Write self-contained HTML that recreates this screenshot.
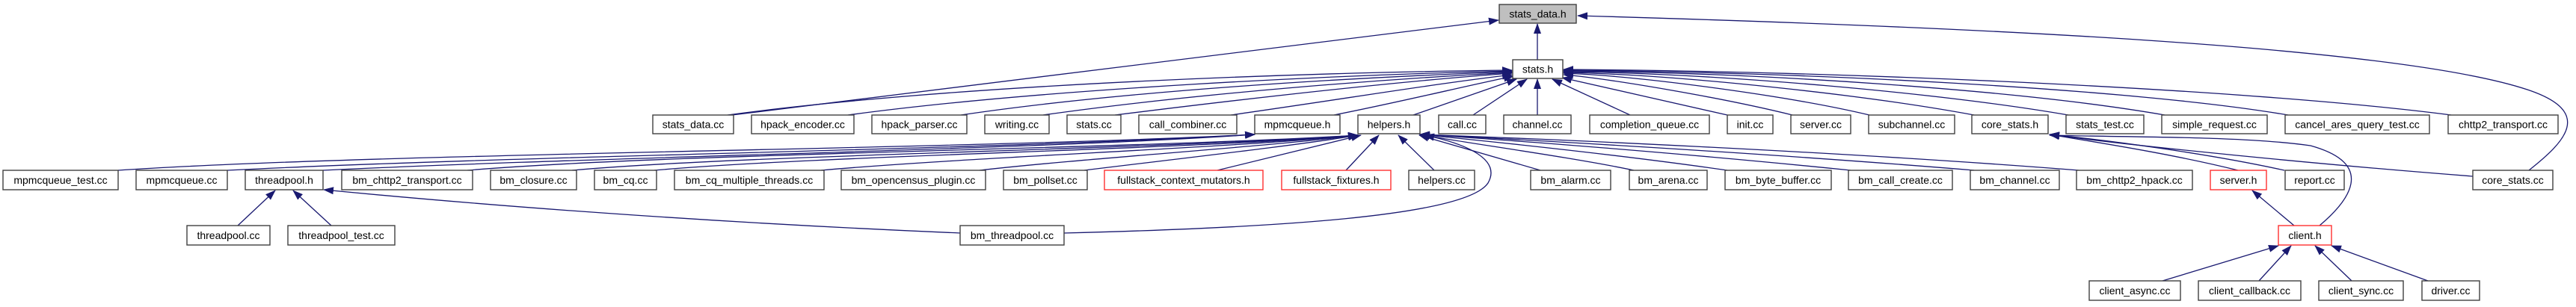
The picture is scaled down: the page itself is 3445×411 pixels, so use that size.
<!DOCTYPE html>
<html><head><meta charset="utf-8"><style>
html,body{margin:0;padding:0;background:#fff;}
svg{display:block;}
text{font-family:"Liberation Sans","DejaVu Sans",sans-serif;font-size:14px;fill:#000;}
.e{stroke:#191970;stroke-width:1.3;fill:none;marker-end:url(#a);}
.n{fill:#fff;stroke:#404040;stroke-width:1.4;}
.r{fill:#fff;stroke:#ff3030;stroke-width:1.4;}
</style></head><body>
<svg width="3445" height="411" viewBox="0 0 3445 411" xmlns="http://www.w3.org/2000/svg">
<defs><marker id="a" markerUnits="userSpaceOnUse" markerWidth="14" markerHeight="10" refX="13" refY="5" orient="auto"><path d="M0,0 L14,5 L0,10 z" fill="#191970"/></marker></defs>
<g>
<!-- to stats_data.h -->
<path class="e" d="M2056,80 L2056,32"/>
<path class="e" d="M979,154 L2004,27"/>
<path class="e" d="M3382,228 C3430,190 3470,150 3380,120 C3200,60 2600,35 2110,21"/>
<!-- to stats.h -->
<path class="e" d="M973,154 C1300,110 1800,96 2022,94"/>
<path class="e" d="M1134,154 C1400,118 1800,100 2022,95"/>
<path class="e" d="M1285,154 C1500,122 1800,104 2022,96"/>
<path class="e" d="M1395,154 C1600,125 1850,106 2022,97"/>
<path class="e" d="M1491,154 C1700,128 1880,108 2022,98"/>
<path class="e" d="M1646,154 C1800,132 1920,112 2022,100"/>
<path class="e" d="M1784,154 C1880,135 1960,115 2024,102"/>
<path class="e" d="M1890,154 L2028,106"/>
<path class="e" d="M1970,154 L2042,106"/>
<path class="e" d="M2056,154 L2056,106"/>
<path class="e" d="M2180,154 L2076,106"/>
<path class="e" d="M2310,154 L2089,104"/>
<path class="e" d="M2397,154 C2300,130 2150,105 2091,100"/>
<path class="e" d="M2500,154 C2400,130 2200,102 2091,98"/>
<path class="e" d="M2640,154 C2500,128 2250,100 2091,97"/>
<path class="e" d="M2766,154 C2600,125 2300,98 2091,96"/>
<path class="e" d="M2895,154 C2700,120 2350,97 2091,95"/>
<path class="e" d="M3060,154 C2850,118 2400,96 2091,94"/>
<path class="e" d="M3278,154 C3000,118 2450,95 2091,93"/>
<!-- to mpmcqueue.h -->
<path class="e" d="M158,228 C500,205 1300,200 1678,180"/>
<path class="e" d="M304,228 C700,208 1350,200 1678,180"/>
<path class="e" d="M432,228 C800,210 1400,200 1678,180"/>
<!-- to helpers.h -->
<path class="e" d="M625,228 C900,205 1500,200 1816,181"/>
<path class="e" d="M765,228 C1000,207 1550,200 1816,181"/>
<path class="e" d="M875,228 C1100,208 1600,200 1816,181"/>
<path class="e" d="M1098,228 C1300,210 1650,198 1816,181"/>
<path class="e" d="M1310,228 C1450,212 1700,196 1816,181"/>
<path class="e" d="M1450,228 C1580,212 1740,194 1816,181"/>
<path class="e" d="M1628,228 L1820,181"/>
<path class="e" d="M1800,228 L1844,181"/>
<path class="e" d="M1918,228 L1870,181"/>
<path class="e" d="M2060,228 L1898,181"/>
<path class="e" d="M2185,228 C2100,210 1950,190 1899,180"/>
<path class="e" d="M2310,228 C2150,205 1980,188 1899,180"/>
<path class="e" d="M2475,228 C2250,205 2000,186 1899,180"/>
<path class="e" d="M2640,228 C2350,204 2020,186 1899,180"/>
<path class="e" d="M2780,228 C2450,202 2040,185 1899,180"/>
<path class="e" d="M1423,312 C1700,305 1960,290 1990,245 C2010,210 1950,190 1905,181"/>
<!-- to threadpool.h -->
<path class="e" d="M318,302 L368,255"/>
<path class="e" d="M443,302 L392,255"/>
<path class="e" d="M1284,312 C1000,300 700,280 433,254"/>
<!-- to core_stats.h -->
<path class="e" d="M2993,228 C2900,205 2800,190 2741,180"/>
<path class="e" d="M3055,228 C2950,205 2820,188 2741,180"/>
<path class="e" d="M3307,236 C3100,220 2850,195 2741,180"/>
<path class="e" d="M3102,302 C3140,270 3180,220 3090,195 C3000,182 2850,184 2741,181"/>
<!-- server.h / client.h -->
<path class="e" d="M3068,302 L3012,255"/>
<path class="e" d="M2892,376 L3047,329"/>
<path class="e" d="M3021,376 L3064,329"/>
<path class="e" d="M3145,376 L3096,329"/>
<path class="e" d="M3247,376 L3118,329"/>
</g>
<g>
<rect x="2005" y="6" width="103" height="25" fill="#bfbfbf" stroke="#404040" stroke-width="1.4"/><text x="2056.5" y="23.5" text-anchor="middle">stats_data.h</text>
<rect class="n" x="2023" y="80" width="67" height="25"/><text x="2056.5" y="97.5" text-anchor="middle">stats.h</text>

<rect class="n" x="873" y="154" width="108" height="25"/><text x="927" y="171.5" text-anchor="middle">stats_data.cc</text>
<rect class="n" x="1005" y="154" width="137" height="25"/><text x="1073.5" y="171.5" text-anchor="middle">hpack_encoder.cc</text>
<rect class="n" x="1166" y="154" width="127" height="25"/><text x="1229.5" y="171.5" text-anchor="middle">hpack_parser.cc</text>
<rect class="n" x="1317" y="154" width="86" height="25"/><text x="1360" y="171.5" text-anchor="middle">writing.cc</text>
<rect class="n" x="1427" y="154" width="72" height="25"/><text x="1463" y="171.5" text-anchor="middle">stats.cc</text>
<rect class="n" x="1523" y="154" width="131" height="25"/><text x="1588.5" y="171.5" text-anchor="middle">call_combiner.cc</text>
<rect class="n" x="1678" y="154" width="114" height="25"/><text x="1735" y="171.5" text-anchor="middle">mpmcqueue.h</text>
<rect class="n" x="1816" y="154" width="83" height="25"/><text x="1857.5" y="171.5" text-anchor="middle">helpers.h</text>
<rect class="n" x="1924" y="154" width="63" height="25"/><text x="1955.5" y="171.5" text-anchor="middle">call.cc</text>
<rect class="n" x="2011" y="154" width="90" height="25"/><text x="2056" y="171.5" text-anchor="middle">channel.cc</text>
<rect class="n" x="2126" y="154" width="160" height="25"/><text x="2206" y="171.5" text-anchor="middle">completion_queue.cc</text>
<rect class="n" x="2310" y="154" width="61" height="25"/><text x="2340.5" y="171.5" text-anchor="middle">init.cc</text>
<rect class="n" x="2395" y="154" width="80" height="25"/><text x="2435" y="171.5" text-anchor="middle">server.cc</text>
<rect class="n" x="2499" y="154" width="115" height="25"/><text x="2556.5" y="171.5" text-anchor="middle">subchannel.cc</text>
<rect class="n" x="2637" y="154" width="102" height="25"/><text x="2688" y="171.5" text-anchor="middle">core_stats.h</text>
<rect class="n" x="2763" y="154" width="104" height="25"/><text x="2815" y="171.5" text-anchor="middle">stats_test.cc</text>
<rect class="n" x="2891" y="154" width="141" height="25"/><text x="2961.5" y="171.5" text-anchor="middle">simple_request.cc</text>
<rect class="n" x="3056" y="154" width="193" height="25"/><text x="3152.5" y="171.5" text-anchor="middle">cancel_ares_query_test.cc</text>
<rect class="n" x="3274" y="154" width="147" height="25"/><text x="3347.5" y="171.5" text-anchor="middle">chttp2_transport.cc</text>

<rect class="n" x="4" y="228" width="154" height="26"/><text x="81" y="246" text-anchor="middle">mpmcqueue_test.cc</text>
<rect class="n" x="182" y="228" width="122" height="26"/><text x="243" y="246" text-anchor="middle">mpmcqueue.cc</text>
<rect class="n" x="328" y="228" width="104" height="26"/><text x="380" y="246" text-anchor="middle">threadpool.h</text>
<rect class="n" x="457" y="228" width="175" height="26"/><text x="544.5" y="246" text-anchor="middle">bm_chttp2_transport.cc</text>
<rect class="n" x="656" y="228" width="115" height="26"/><text x="713.5" y="246" text-anchor="middle">bm_closure.cc</text>
<rect class="n" x="795" y="228" width="83" height="26"/><text x="836.5" y="246" text-anchor="middle">bm_cq.cc</text>
<rect class="n" x="902" y="228" width="200" height="26"/><text x="1002" y="246" text-anchor="middle">bm_cq_multiple_threads.cc</text>
<rect class="n" x="1125" y="228" width="193" height="26"/><text x="1221.5" y="246" text-anchor="middle">bm_opencensus_plugin.cc</text>
<rect class="n" x="1342" y="228" width="112" height="26"/><text x="1398" y="246" text-anchor="middle">bm_pollset.cc</text>
<rect class="r" x="1477" y="228" width="212" height="26"/><text x="1583" y="246" text-anchor="middle">fullstack_context_mutators.h</text>
<rect class="r" x="1714" y="228" width="146" height="26"/><text x="1787" y="246" text-anchor="middle">fullstack_fixtures.h</text>
<rect class="n" x="1884" y="228" width="88" height="26"/><text x="1928" y="246" text-anchor="middle">helpers.cc</text>
<rect class="n" x="2047" y="228" width="107" height="26"/><text x="2100.5" y="246" text-anchor="middle">bm_alarm.cc</text>
<rect class="n" x="2179" y="228" width="104" height="26"/><text x="2231" y="246" text-anchor="middle">bm_arena.cc</text>
<rect class="n" x="2307" y="228" width="142" height="26"/><text x="2378" y="246" text-anchor="middle">bm_byte_buffer.cc</text>
<rect class="n" x="2472" y="228" width="139" height="26"/><text x="2541.5" y="246" text-anchor="middle">bm_call_create.cc</text>
<rect class="n" x="2635" y="228" width="119" height="26"/><text x="2694.5" y="246" text-anchor="middle">bm_channel.cc</text>
<rect class="n" x="2777" y="228" width="155" height="26"/><text x="2854.5" y="246" text-anchor="middle">bm_chttp2_hpack.cc</text>
<rect class="r" x="2956" y="228" width="75" height="26"/><text x="2993.5" y="246" text-anchor="middle">server.h</text>
<rect class="n" x="3056" y="228" width="79" height="26"/><text x="3095.5" y="246" text-anchor="middle">report.cc</text>
<rect class="n" x="3307" y="228" width="107" height="26"/><text x="3360.5" y="246" text-anchor="middle">core_stats.cc</text>

<rect class="n" x="250" y="302" width="111" height="26"/><text x="305.5" y="320" text-anchor="middle">threadpool.cc</text>
<rect class="n" x="385" y="302" width="143" height="26"/><text x="456.5" y="320" text-anchor="middle">threadpool_test.cc</text>
<rect class="n" x="1284" y="302" width="139" height="26"/><text x="1353.5" y="320" text-anchor="middle">bm_threadpool.cc</text>
<rect class="r" x="3047" y="302" width="71" height="26"/><text x="3082.5" y="320" text-anchor="middle">client.h</text>

<rect class="n" x="2794" y="376" width="122" height="26"/><text x="2855" y="394" text-anchor="middle">client_async.cc</text>
<rect class="n" x="2940" y="376" width="137" height="26"/><text x="3008.5" y="394" text-anchor="middle">client_callback.cc</text>
<rect class="n" x="3101" y="376" width="113" height="26"/><text x="3157.5" y="394" text-anchor="middle">client_sync.cc</text>
<rect class="n" x="3239" y="376" width="77" height="26"/><text x="3277.5" y="394" text-anchor="middle">driver.cc</text>
</g>
</svg>
</body></html>
